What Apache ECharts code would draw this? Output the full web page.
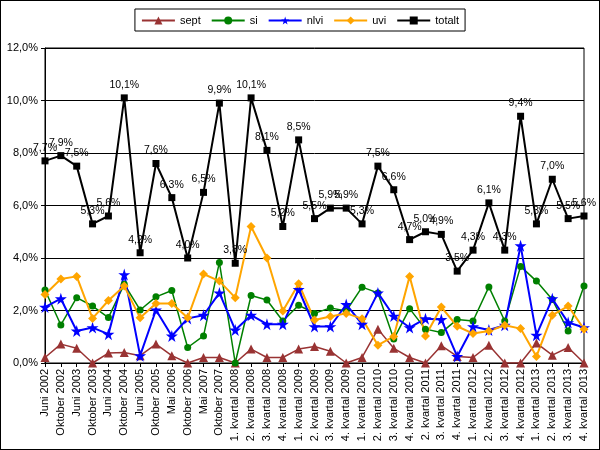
<!DOCTYPE html>
<html><head><meta charset="utf-8">
<script src="https://cdn.jsdelivr.net/npm/echarts@6/dist/echarts.min.js"></script>
<style>html,body{margin:0;padding:0;background:#fff}#c{width:600px;height:450px;box-sizing:border-box;border:1px solid #000}</style>
</head><body><div id="c"></div>
<script>
var categories = ["Juni 2002","Oktober 2002","Juni 2003","Oktober 2003","Juni 2004","Oktober 2004","Juni 2005","Oktober 2005","Mai 2006","Oktober 2006","Mai 2007","Oktober 2007","1. kvartal 2008","2. kvartal 2008","3. kvartal 2008","4. kvartal 2008","1. kvartal 2009","2. kvartal 2009","3. kvartal 2009","4. kvartal 2009","1. kvartal 2010","2. kvartal 2010","3. kvartal 2010","4. kvartal 2010","2. kvartal 2011","3. kvartal 2011","4. kvartal 2011","1. kvartal 2012","2. kvartal 2012","3. kvartal 2012","4. kvartal 2012","1. kvartal 2013","2. kvartal 2013","3. kvartal 2013","4. kvartal 2013"];
var sept = [0.21,0.72,0.56,0.0,0.38,0.40,0.28,0.72,0.28,0.0,0.21,0.21,0.0,0.53,0.21,0.21,0.53,0.63,0.45,0.0,0.21,1.29,0.56,0.21,0.0,0.66,0.25,0.21,0.68,0.0,0.0,0.76,0.30,0.59,0.0];
var si = [2.78,1.45,2.49,2.17,1.73,3.0,2.02,2.52,2.76,0.59,1.03,3.83,0.0,2.57,2.4,1.6,2.2,1.89,2.1,1.98,2.89,2.67,0.91,2.07,1.29,1.16,1.66,1.6,2.9,1.6,3.68,3.12,2.42,1.22,2.93];
var nlvi = [2.13,2.45,1.22,1.35,1.10,3.37,0.28,2.02,1.03,1.70,1.82,2.67,1.26,1.82,1.48,1.48,2.8,1.39,1.39,2.23,1.48,2.67,1.79,1.35,1.69,1.66,0.25,1.39,1.26,1.44,4.47,1.06,2.45,1.54,1.35];
var uvi = [2.61,3.2,3.3,1.7,2.38,2.93,1.72,2.27,2.27,1.72,3.39,3.12,2.49,5.2,4.0,1.98,3.02,1.64,1.77,1.89,1.69,0.68,1.01,3.3,1.03,2.13,1.40,1.12,1.22,1.44,1.31,0.25,1.82,2.17,1.29];
var totalt = [7.7,7.9,7.5,5.3,5.6,10.1,4.2,7.6,6.3,4.0,6.5,9.9,3.8,10.1,8.1,5.2,8.5,5.5,5.9,5.9,5.3,7.5,6.6,4.7,5.0,4.9,3.5,4.3,6.1,4.3,9.4,5.3,7.0,5.5,5.6];
var yTicks = {min:0, max:12, interval:2};

var star = 'path://M50,0 L61,35 L98,35 L68,57 L79,91 L50,70 L21,91 L32,57 L2,35 L39,35 Z';
function pct(v){return v.toFixed(1).replace('.',',')+'%';}
function mk(name,data,color,symbol,size,width,extra){
  var s = {name:name,type:'line',data:data,symbol:symbol,symbolSize:size,
    lineStyle:{color:color,width:width},itemStyle:{color:color},
    emphasis:{disabled:true},animation:false};
  for (var k in extra) s[k]=extra[k];
  return s;
}
var chart = echarts.init(document.getElementById('c'));
chart.setOption({
  animation:false,
  textStyle:{fontFamily:'Liberation Sans, Arial, sans-serif'},
  legend:{top:8,left:'center',itemWidth:33,itemHeight:10,itemGap:10,
    borderColor:'#000',borderWidth:1,padding:[6,6,5,6],
    textStyle:{fontSize:11,color:'#000'},
    data:['sept','si','nlvi','uvi','totalt']},
  grid:{left:44,right:15,top:47,bottom:86,show:true,borderColor:'#000',borderWidth:1,backgroundColor:'#fff'},
  xAxis:{type:'category',data:categories,boundaryGap:false,
    axisLine:{lineStyle:{color:'#000'}},
    axisTick:{show:true,alignWithLabel:true,length:4,lineStyle:{color:'#000'}},
    axisLabel:{rotate:90,interval:0,fontSize:11,color:'#000',margin:6},
    splitLine:{show:false}},
  yAxis:{type:'value',min:yTicks.min,max:yTicks.max,interval:yTicks.interval,
    axisLine:{show:true,lineStyle:{color:'#000'}},
    axisTick:{show:true,length:4,lineStyle:{color:'#000'}},
    axisLabel:{fontSize:11,color:'#000',margin:7,formatter:function(v){return pct(v);}},
    splitLine:{show:true,lineStyle:{color:'#000',width:1}}},
  series:[
    mk('sept',sept,'#993333','triangle',9,1.5,{}),
    mk('si',si,'#008000','circle',7,1.5,{}),
    mk('nlvi',nlvi,'#0000FF',star,12,2,{}),
    mk('uvi',uvi,'#FFA500','diamond',9,2,{}),
    mk('totalt',totalt,'#000000','rect',7,2,{
      label:{show:true,position:'top',distance:4,fontSize:10.5,color:'#000',
        formatter:function(p){return pct(p.value);}}})
  ]
});
</script></body></html>
